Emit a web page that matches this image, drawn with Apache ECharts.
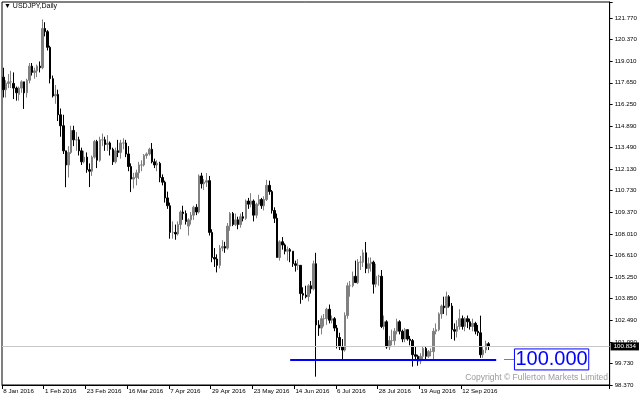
<!DOCTYPE html>
<html><head><meta charset="utf-8">
<script src="https://cdn.jsdelivr.net/npm/echarts@6/dist/echarts.min.js"></script>
<style>html,body{margin:0;padding:0;background:#fff}#c{width:640px;height:400px}</style>
</head><body><div id="c"></div>
<script>
// Daily USDJPY candles: [open, high, low, close], starting 8 Jan 2016 (weekdays)
const ohlc = [
[118.0,118.6,116.7,117.2],[117.2,117.8,116.7,117.6],[117.6,118.2,117.3,117.7],[117.7,118.4,117.3,117.7],[117.6,118.3,116.6,117.3],
[117.3,117.4,116.5,117.0],[116.9,117.4,116.5,117.3],[117.3,117.8,117.0,117.7],[117.7,117.7,115.97,117.0],[117.0,117.9,116.7,117.8],
[117.8,118.9,117.6,118.7],[118.7,118.9,118.1,118.3],[118.3,118.6,117.9,118.4],[118.4,118.8,118.0,118.7],[118.7,119.0,118.3,118.6],
[118.6,121.68,118.5,121.1],[121.1,121.5,120.6,120.9],[120.9,121.0,119.7,119.9],[119.9,120.0,117.6,117.9],[117.9,118.1,116.7,116.8],
[116.8,117.5,116.3,116.9],[116.9,117.2,115.2,115.6],[115.6,116.0,114.2,114.9],[114.9,115.6,113.1,113.3],[113.3,113.3,110.98,112.4],
[112.4,113.6,111.6,113.2],[113.2,114.9,113.1,114.6],[114.6,114.9,113.6,114.0],[114.0,114.5,113.3,114.0],[114.0,114.2,113.0,113.3],
[113.3,113.5,112.4,112.6],[112.6,113.3,112.5,112.9],[112.9,113.2,111.9,112.1],[112.1,112.5,110.99,112.0],[112.0,113.0,111.7,112.9],
[112.9,114.0,112.8,113.9],[113.9,114.0,112.2,112.7],[112.7,114.2,112.6,114.0],[114.0,114.4,113.6,114.0],[114.0,114.2,113.3,113.7],
[113.7,114.3,113.3,113.8],[113.8,113.9,113.0,113.4],[113.4,113.5,112.4,112.6],[112.6,113.5,112.5,113.3],[113.3,114.0,112.9,113.2],
[113.2,114.0,112.8,113.8],[113.8,114.1,113.4,113.8],[113.8,114.0,112.9,113.1],[113.1,113.6,112.0,112.3],[112.3,112.5,110.67,111.5],
[111.5,111.9,110.9,111.6],[111.6,112.1,111.1,111.9],[111.9,112.6,111.5,112.4],[112.4,112.7,112.0,112.4],[112.4,113.1,112.3,113.0],
[113.0,113.2,112.8,113.1],[113.1,113.5,113.0,113.4],[113.4,113.8,112.5,112.6],[112.6,112.8,112.2,112.4],[112.4,112.7,112.0,112.5],
[112.5,112.6,111.3,111.6],[111.6,111.8,111.1,111.3],[111.3,111.4,110.0,110.3],[110.3,110.7,109.6,109.8],[109.8,110.0,107.7,108.1],
[108.1,108.8,107.7,108.1],[108.1,108.6,107.63,108.0],[108.0,108.8,107.9,108.6],[108.6,109.5,108.3,109.4],[109.4,109.8,108.9,109.3],
[109.3,109.5,108.6,108.8],[108.5,109.0,107.9,108.9],[108.9,109.4,108.6,109.2],[109.2,109.8,108.9,109.7],[109.7,109.9,109.2,109.4],
[109.4,111.8,109.3,111.7],[111.7,111.9,110.9,111.2],[111.2,111.5,110.8,111.3],[111.3,111.88,111.0,111.4],[111.4,111.7,107.9,108.1],
[108.1,108.3,106.2,106.5],[106.5,107.1,105.9,106.4],[106.4,106.7,105.55,106.0],[106.0,107.3,105.8,107.1],[107.1,107.6,106.9,107.2],
[107.2,107.5,106.8,107.1],[107.1,108.7,107.0,108.5],[108.5,109.4,108.2,109.3],[109.3,109.4,108.5,108.6],[108.6,109.3,108.5,108.9],
[108.9,109.1,108.3,108.6],[108.6,109.3,108.4,109.1],[109.1,109.4,108.8,109.0],[109.0,110.2,108.9,110.1],[110.1,110.3,109.6,109.9],
[109.9,110.6,109.7,110.1],[110.1,110.2,108.8,109.2],[109.2,110.0,109.0,109.9],[109.9,110.5,109.8,110.2],[110.2,110.3,109.6,109.8],
[109.8,110.4,109.5,110.2],[110.2,111.45,110.1,111.1],[111.1,111.4,110.5,110.7],[110.7,110.8,109.3,109.5],[109.5,109.7,108.7,109.0],
[109.0,109.3,106.5,106.5],[106.5,107.6,106.3,107.5],[107.5,107.8,107.0,107.3],[107.3,107.4,106.7,106.9],[106.9,107.2,106.3,107.0],
[107.0,107.1,106.2,106.9],[106.9,106.9,105.9,106.1],[106.1,106.3,105.6,106.0],[106.0,106.4,105.7,106.0],[106.0,106.0,103.55,104.2],
[104.2,104.6,103.8,104.1],[104.1,104.7,103.9,104.0],[104.0,104.8,103.7,104.7],[104.7,105.0,104.2,104.5],[104.5,106.3,104.4,106.1],
[106.1,106.8,98.9,102.2],[102.2,102.5,101.5,102.0],[102.0,102.8,101.6,102.6],[102.6,102.9,102.1,102.6],[102.6,103.3,102.2,103.2],
[103.2,103.5,102.3,102.5],[102.5,102.8,102.3,102.6],[102.6,102.7,101.8,102.0],[102.0,102.2,100.7,101.4],[101.4,101.7,100.6,100.8],
[100.8,101.3,99.96,100.6],[100.6,103.0,100.5,102.8],[102.8,104.9,102.6,104.7],[104.7,105.0,104.0,104.7],[104.7,105.6,104.6,105.3],
[105.3,106.3,104.9,104.9],[104.9,106.4,104.8,106.2],[106.2,106.6,105.7,106.2],[106.2,107.0,105.9,106.8],[106.8,107.49,105.5,105.8],
[105.8,106.5,105.5,106.1],[106.1,106.5,105.6,106.2],[106.2,106.3,104.2,104.8],[104.8,106.1,104.6,105.3],[105.3,105.4,104.7,105.3],
[105.3,105.7,102.0,102.1],[102.1,102.8,101.9,102.4],[102.4,102.5,100.68,100.8],[100.8,101.5,100.6,101.2],[101.2,101.9,100.9,101.2],
[101.2,102.0,100.9,101.8],[101.8,102.6,101.6,102.4],[102.4,102.5,101.6,101.8],[101.8,101.9,101.1,101.3],[101.3,102.0,101.1,101.9],
[101.9,101.9,101.2,101.3],[101.3,101.5,100.9,101.2],[101.2,101.3,99.54,100.3],[100.3,100.8,99.9,100.2],[100.2,100.3,99.6,99.9],
[99.9,100.4,99.7,100.2],[100.2,100.8,100.0,100.7],[100.7,100.8,100.0,100.2],[100.2,100.6,100.1,100.5],[100.5,100.7,100.2,100.5],
[100.5,102.0,99.9,101.8],[101.8,102.3,101.6,101.9],[101.9,103.0,101.8,102.9],[102.9,103.5,102.6,103.4],[103.4,104.0,102.9,103.3],
[103.3,104.32,102.8,104.0],[104.0,104.1,103.3,103.4],[103.4,103.6,101.3,101.9],[101.9,102.3,101.2,101.8],[101.8,102.5,101.4,102.1],
[102.1,103.2,101.9,102.6],[102.6,102.8,101.9,102.1],[102.1,102.7,101.8,102.6],[102.6,102.8,102.0,102.4],[102.4,102.6,101.9,102.1],
[102.1,102.6,101.8,102.3],[102.3,102.4,101.6,101.8],[101.8,102.2,101.5,101.7],[101.7,102.79,100.1,100.3],[100.3,100.8,100.1,100.6],
[100.6,101.2,100.4,101.0],[101.0,101.1,100.6,100.834]
];
const xTickLabels = ['8 Jan 2016','1 Feb 2016','23 Feb 2016','16 Mar 2016','7 Apr 2016','29 Apr 2016','23 May 2016','14 Jun 2016','6 Jul 2016','28 Jul 2016','19 Aug 2016','12 Sep 2016'];
const yTickLabels = ['98.370','99.730','101.090','102.490','103.850','105.250','106.610','108.010','109.370','110.730','112.130','113.490','114.890','116.250','117.650','119.010','120.370','121.770'];
const currentPrice = 100.834;
const supportLevel = 100.000;
const supportFromBar = 110, supportToBar = 189;

const totalBars = 233;
const months = ['Jan','Feb','Mar','Apr','May','Jun','Jul','Aug','Sep','Oct','Nov','Dec'];
const categories = [];
let d = new Date(Date.UTC(2016,0,8));
while (categories.length < totalBars) {
  const wd = d.getUTCDay();
  if (wd !== 0 && wd !== 6) categories.push(d.getUTCDate()+' '+months[d.getUTCMonth()]+' '+d.getUTCFullYear());
  d = new Date(d.getTime() + 86400000);
}
const yMin = 98.37, yStep = (121.77 - 98.37) / 17, yMax = 122.79;
const font = '"Liberation Sans",Arial,sans-serif';
const candleData = ohlc.map(r => [r[0], r[3], r[2], r[1]]);
const showTick = (i) => i % 16 === 0 && i / 16 < xTickLabels.length;

const chart = echarts.init(document.getElementById('c'), null, {renderer: 'canvas'});
chart.setOption({
  animation: false,
  backgroundColor: '#fff',
  grid: {left: 2, right: 28, top: 2, bottom: 15, show: true, borderColor: '#000', borderWidth: 1},
  xAxis: {
    type: 'category', data: categories, boundaryGap: true,
    axisLine: {lineStyle: {color: '#000', width: 1}},
    axisTick: {show: true, interval: showTick, length: 4, lineStyle: {color: '#000'}},
    axisLabel: {interval: showTick, align: 'left', margin: 3, fontSize: 6.2, fontFamily: font, color: '#000',
      formatter: (v, i) => showTick(i) ? xTickLabels[i / 16] : ''},
    splitLine: {show: false}
  },
  yAxis: {
    type: 'value', position: 'right', min: yMin, max: yMax, interval: yStep, scale: true,
    axisLine: {show: true, lineStyle: {color: '#000', width: 1}},
    axisTick: {show: true, length: 3, lineStyle: {color: '#000'}},
    axisLabel: {margin: 5, fontSize: 6.2, fontFamily: font, color: '#000',
      formatter: (v) => { const k = (v - yMin) / yStep; const r = Math.round(k); return Math.abs(k - r) < 0.01 && yTickLabels[r] ? yTickLabels[r] : ''; }},
    splitLine: {show: false}
  },
  series: [{
    type: 'candlestick', data: candleData, barWidth: 2,
    itemStyle: {color: '#808080', color0: '#000000', borderColor: '#808080', borderColor0: '#000000', borderWidth: 1},
    markLine: {
      symbol: 'none', silent: true, animation: false,
      data: [
        {yAxis: currentPrice, lineStyle: {color: '#c8c8c8', width: 1, type: 'solid'},
          label: {show: true, position: 'end', distance: 1, formatter: '100.834', backgroundColor: '#000', color: '#fff',
            fontSize: 6.2, fontFamily: font, padding: [1, 3, 1, 3]}},
        [{coord: [supportFromBar, supportLevel], lineStyle: {color: '#0000ff', width: 2, type: 'solid'}, label: {show: false}},
         {coord: [supportToBar, supportLevel]}],
        [{coord: [192, supportLevel], lineStyle: {color: '#7070ff', width: 1, type: 'solid'},
          label: {show: true, position: 'end', distance: 0, formatter: '100.000', color: '#0000ff', fontSize: 20,
            fontFamily: font, borderColor: '#0000ff', borderWidth: 1, padding: [1, 1, 0, 1]}},
         {coord: [196, supportLevel]}]
      ]
    }
  }],
  graphic: [
    {type: 'text', left: 4, top: 3, style: {text: '▼ USDJPY,Daily', font: '7px "Liberation Sans",Arial,sans-serif', fill: '#000'}},
    {type: 'text', right: 32, top: 373, style: {text: 'Copyright © Fullerton Markets Limited', font: '8.5px "Liberation Sans",Arial,sans-serif', fill: '#9a9a9a'}}
  ]
});
</script></body></html>
